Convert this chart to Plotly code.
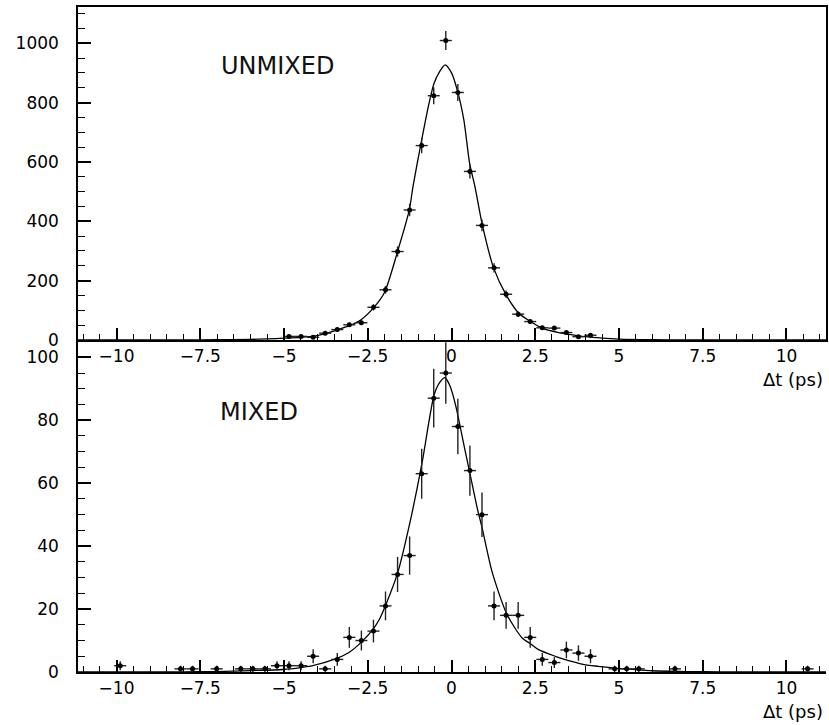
import numpy as np
import plotly.graph_objects as go

# ---------------- data ----------------
# UNMIXED (top panel) histogram points
unmixed_x = [-4.85, -4.49, -4.13, -3.77, -3.41, -3.05, -2.69, -2.33, -1.97, -1.61,
             -1.25, -0.89, -0.53, -0.17, 0.19, 0.55, 0.91, 1.27, 1.63, 1.99,
             2.35, 2.71, 3.07, 3.43, 3.79, 4.15]
unmixed_y = [12, 12, 9, 23, 35, 51, 58, 110, 169, 298,
             438, 655, 823, 1009, 834, 568, 386, 243, 154, 87,
             62, 41, 40, 25, 11, 16]

# MIXED (bottom panel) histogram points
mixed_x = [-9.89, -8.09, -7.73, -7.01, -6.29, -5.93, -5.57, -5.21, -4.85, -4.49,
           -4.13, -3.77, -3.41, -3.05, -2.69, -2.33, -1.97, -1.61, -1.25, -0.89,
           -0.53, -0.17, 0.19, 0.55, 0.91, 1.27, 1.63, 1.99, 2.35, 2.71,
           3.07, 3.43, 3.79, 4.15, 4.87, 5.23, 5.59, 6.67, 10.63]
mixed_y = [2, 1, 1, 1, 1, 1, 1, 2, 2, 2,
           5, 1, 4, 11, 10, 13, 21, 31, 37, 63,
           87, 95, 78, 64, 50, 21, 18, 18, 11, 4,
           3, 7, 6, 5, 1, 1, 1, 1, 1]

half_bin = 0.18

# fitted curves
fit_unmixed_x = [-11.15, -9, -8, -7, -6, -5.5, -5, -4.5, -4.1, -3.77, -3.43, -3.05,
                 -2.7, -2.33, -2.0, -1.61, -1.26, -1.15, -0.89, -0.67, -0.52, -0.35,
                 -0.19, 0.0, 0.17, 0.37, 0.54, 0.7, 0.92, 1.26, 1.63, 2.01, 2.36,
                 2.7, 3.2, 3.45, 4.0, 4.5, 5.0, 6.0, 7, 8, 11.18]
fit_unmixed_y = [0, 0.1, 0.3, 0.8, 2, 3.5, 6, 9, 13, 21, 33, 48,
                 68, 108, 160, 298, 438, 517, 674, 798, 865, 905,
                 927, 900, 843, 741, 596, 517, 388, 242, 152, 90, 62,
                 40, 25, 20, 11, 6, 3, 1, 0.3, 0.1, 0]

fit_mixed_x = [-11.15, -8, -7, -6.5, -6, -5.04, -4.5, -4.14, -3.53, -3.05, -2.69,
               -2.34, -2.16, -1.96, -1.61, -1.21, -0.87, -0.52, -0.35, -0.19, -0.05,
               0.12, 0.37, 0.62, 0.77, 0.92, 1.21, 1.66, 2.11, 2.36, 2.6, 3.1, 3.5,
               4.0, 4.39, 4.79, 5.3, 6, 7, 8, 11.18]
fit_mixed_y = [0, 0.05, 0.15, 0.3, 0.45, 0.8, 1.4, 2.0, 3.9, 6.3, 9.5,
               13.6, 16.6, 21.4, 31.4, 49, 67, 88, 92, 93.5, 91,
               84.9, 72.2, 59.5, 52, 45.5, 31.9, 18.2, 10.8, 9, 7.1, 5.0, 3.6,
               2.3, 1.8, 1.3, 0.9, 0.4, 0.15, 0.05, 0]

x_tickvals = [-10, -7.5, -5, -2.5, 0, 2.5, 5, 7.5, 10]
x_ticktext = ["\u221210", "\u22127.5", "\u22125", "\u22122.5", "0", "2.5", "5", "7.5", "10"]
y1_tickvals = [0, 200, 400, 600, 800, 1000]
y2_tickvals = [0, 20, 40, 60, 80, 100]

FONT = "DejaVu Sans"

fig = go.Figure()

def add_panel(x, y, fx, fy, xa, ya):
    fig.add_trace(go.Scatter(
        x=fx, y=fy, mode="lines", line=dict(color="black", width=1.3, shape="spline", smoothing=0.7),
        xaxis=xa, yaxis=ya, hoverinfo="skip", showlegend=False))
    fig.add_trace(go.Scatter(
        x=x, y=y, mode="markers",
        marker=dict(color="black", size=5),
        error_y=dict(type="data", array=list(np.sqrt(np.array(y, dtype=float))),
                     color="#222222", thickness=1.4, width=0),
        error_x=dict(type="constant", value=half_bin, color="#222222", thickness=1.4, width=0),
        xaxis=xa, yaxis=ya, showlegend=False))

add_panel(unmixed_x, unmixed_y, fit_unmixed_x, fit_unmixed_y, "x", "y")
add_panel(mixed_x, mixed_y, fit_mixed_x, fit_mixed_y, "x2", "y2")

xcommon = dict(range=[-11.15, 11.18], tickmode="array", tickvals=x_tickvals, ticktext=x_ticktext,
               ticks="inside", ticklen=12, tickwidth=1.5, tickcolor="black",
               showline=True, linecolor="black", linewidth=2, showgrid=False, zeroline=False,
               tickfont=dict(family=FONT, size=17, color="black"),
               minor=dict(tickmode="linear", tick0=0, dtick=0.5, ticks="inside", ticklen=6,
                          tickwidth=1, tickcolor="black", showgrid=False))
ycommon = dict(ticks="inside", tickwidth=1.5, tickcolor="black", ticklen=13,
               showline=True, linecolor="black", linewidth=1.5, showgrid=False, zeroline=False,
               tickfont=dict(family=FONT, size=17, color="black"), ticklabelstandoff=14)

fig.update_layout(
    width=829, height=725,
    margin=dict(l=78, r=1, t=7, b=53),
    paper_bgcolor="white", plot_bgcolor="white",
    xaxis=dict(**xcommon, domain=[0, 1], anchor="y", mirror=True),
    yaxis=dict(**ycommon, domain=[0.4993, 1], anchor="x", range=[0, 1122], mirror=True,
               tickmode="array", tickvals=y1_tickvals,
               minor=dict(tickmode="linear", tick0=0, dtick=50, ticks="inside", ticklen=7,
                          tickwidth=1, tickcolor="black", showgrid=False)),
    xaxis2=dict(**xcommon, domain=[0, 1], anchor="y2"),
    yaxis2=dict(**ycommon, domain=[0, 0.4993], anchor="x2", range=[0, 105.5],
                tickmode="array", tickvals=y2_tickvals,
                minor=dict(tickmode="linear", tick0=0, dtick=5, ticks="inside", ticklen=7,
                           tickwidth=1, tickcolor="black", showgrid=False)),
    annotations=[
        dict(text="UNMIXED", x=-6.95, y=923, xref="x", yref="y", xanchor="left", yanchor="middle",
             showarrow=False, font=dict(family=FONT, size=24, color="#111111")),
        dict(text="MIXED", x=-6.98, y=82.6, xref="x2", yref="y2", xanchor="left", yanchor="middle",
             showarrow=False, font=dict(family=FONT, size=24, color="#111111")),
        dict(text="\u0394t (ps)", x=0.998, y=0.4406, xref="paper", yref="paper",
             xanchor="right", yanchor="middle", showarrow=False,
             font=dict(family=FONT, size=18, color="black")),
        dict(text="\u0394t (ps)", x=0.998, y=-0.060, xref="paper", yref="paper",
             xanchor="right", yanchor="middle", showarrow=False,
             font=dict(family=FONT, size=18, color="black")),
    ],
)

fig.write_html("out.html")
